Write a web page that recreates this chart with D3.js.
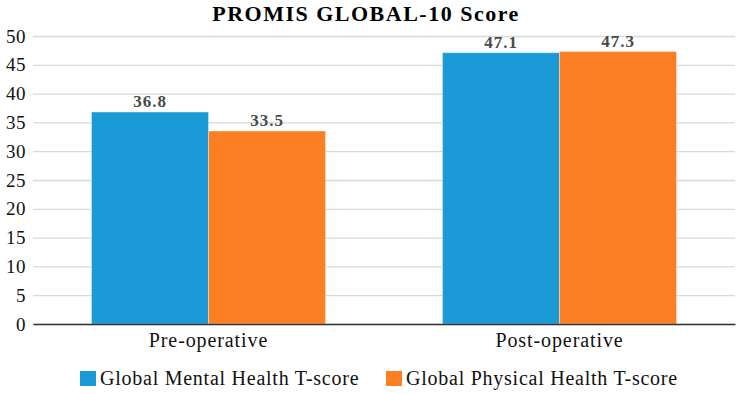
<!DOCTYPE html>
<html>
<head>
<meta charset="utf-8">
<script src="https://cdn.jsdelivr.net/npm/d3@7"></script>
<style>
  body { margin: 0; background: #fff; }
  svg text { font-family: "Liberation Serif", "Times New Roman", Times, "DejaVu Serif", serif !important; }
</style>
</head>
<body>
<svg id="chart"></svg>
<script>
const categories = ['Pre-operative', 'Post-operative'];
const seriesNames = ['Global Mental Health T-score', 'Global Physical Health T-score'];
const mentalValues = [36.8, 47.1];
const physicalValues = [33.5, 47.3];
const yTicks = [0, 5, 10, 15, 20, 25, 30, 35, 40, 45, 50];
const colors = ['#1a9ad6', '#fd7f23'];

const width = 738, height = 394;
const margin = {top: 36, right: 3, bottom: 70, left: 33};

const svg = d3.select('#chart').attr('width', width).attr('height', height);

const x = d3.scaleBand().domain(categories)
    .range([margin.left, width - margin.right]).paddingInner(0).paddingOuter(0);
const x1 = d3.scaleBand().domain(seriesNames)
    .range([0, x.bandwidth()]).paddingOuter(0.5);
const y = d3.scaleLinear().domain([0, 50]).range([height - margin.bottom, margin.top]);

// gridlines
svg.append('g')
    .attr('transform', `translate(${margin.left},0)`)
    .call(d3.axisLeft(y).tickValues(yTicks).tickSize(-(width - margin.left - margin.right)).tickFormat(''))
    .call(g => g.select('.domain').remove())
    .call(g => g.selectAll('line').attr('stroke', '#d9d9d9').attr('stroke-width', 1.3));

// y tick labels
svg.append('g')
    .attr('transform', `translate(${margin.left},0)`)
    .call(d3.axisLeft(y).tickValues(yTicks).tickSize(0).tickPadding(7))
    .call(g => g.select('.domain').remove())
    .call(g => g.selectAll('text').attr('font-size', 19).attr('fill', '#111')
        .attr('letter-spacing', 0.5));

const rows = categories.map((c, i) => ({cat: c, vals: [mentalValues[i], physicalValues[i]]}));

const groups = svg.append('g').selectAll('g').data(rows).join('g')
    .attr('transform', d => `translate(${x(d.cat)},0)`);

groups.selectAll('rect')
    .data(d => d.vals.map((v, j) => ({name: seriesNames[j], v, j})))
    .join('rect')
    .attr('x', d => x1(d.name))
    .attr('width', x1.bandwidth())
    .attr('y', d => y(d.v))
    .attr('height', d => y(0) - y(d.v))
    .attr('fill', d => colors[d.j])
    .attr('stroke', '#ffffff')
    .attr('stroke-opacity', 0.35)
    .attr('stroke-width', 1);

groups.selectAll('text.val')
    .data(d => d.vals.map((v, j) => ({name: seriesNames[j], v, j})))
    .join('text')
    .attr('class', 'val')
    .attr('x', d => x1(d.name) + x1.bandwidth() / 2)
    .attr('y', d => y(d.v) - 5)
    .attr('text-anchor', 'middle')
    .attr('font-size', 17)
    .attr('font-weight', 'bold')
    .attr('letter-spacing', 1)
    .attr('fill', '#4a4a4a')
    .text(d => d.v.toFixed(1));

// x axis
svg.append('g')
    .attr('transform', `translate(0,${y(0)})`)
    .call(d3.axisBottom(x).tickSize(0).tickPadding(9))
    .call(g => g.select('.domain').attr('stroke', '#333').attr('stroke-width', 1.5))
    .call(g => g.selectAll('text').attr('font-size', 20).attr('fill', '#111')
        .attr('letter-spacing', 0.9));

// title
svg.append('text')
    .attr('x', 366).attr('y', 21)
    .attr('text-anchor', 'middle')
    .attr('font-size', 22)
    .attr('font-weight', 'bold')
    .attr('letter-spacing', 1.5)
    .attr('fill', '#000')
    .text('PROMIS GLOBAL-10 Score');

// legend
const legendX = [80, 386];
const legend = svg.append('g').selectAll('g').data(seriesNames).join('g')
    .attr('transform', (d, i) => `translate(${legendX[i]},371)`);
legend.append('rect').attr('width', 16).attr('height', 15)
    .attr('fill', (d, i) => colors[i]);
legend.append('text').attr('x', 20).attr('y', 14)
    .attr('font-size', 20).attr('fill', '#111')
    .attr('letter-spacing', 0.75)
    .text(d => d);
</script>
</body>
</html>
